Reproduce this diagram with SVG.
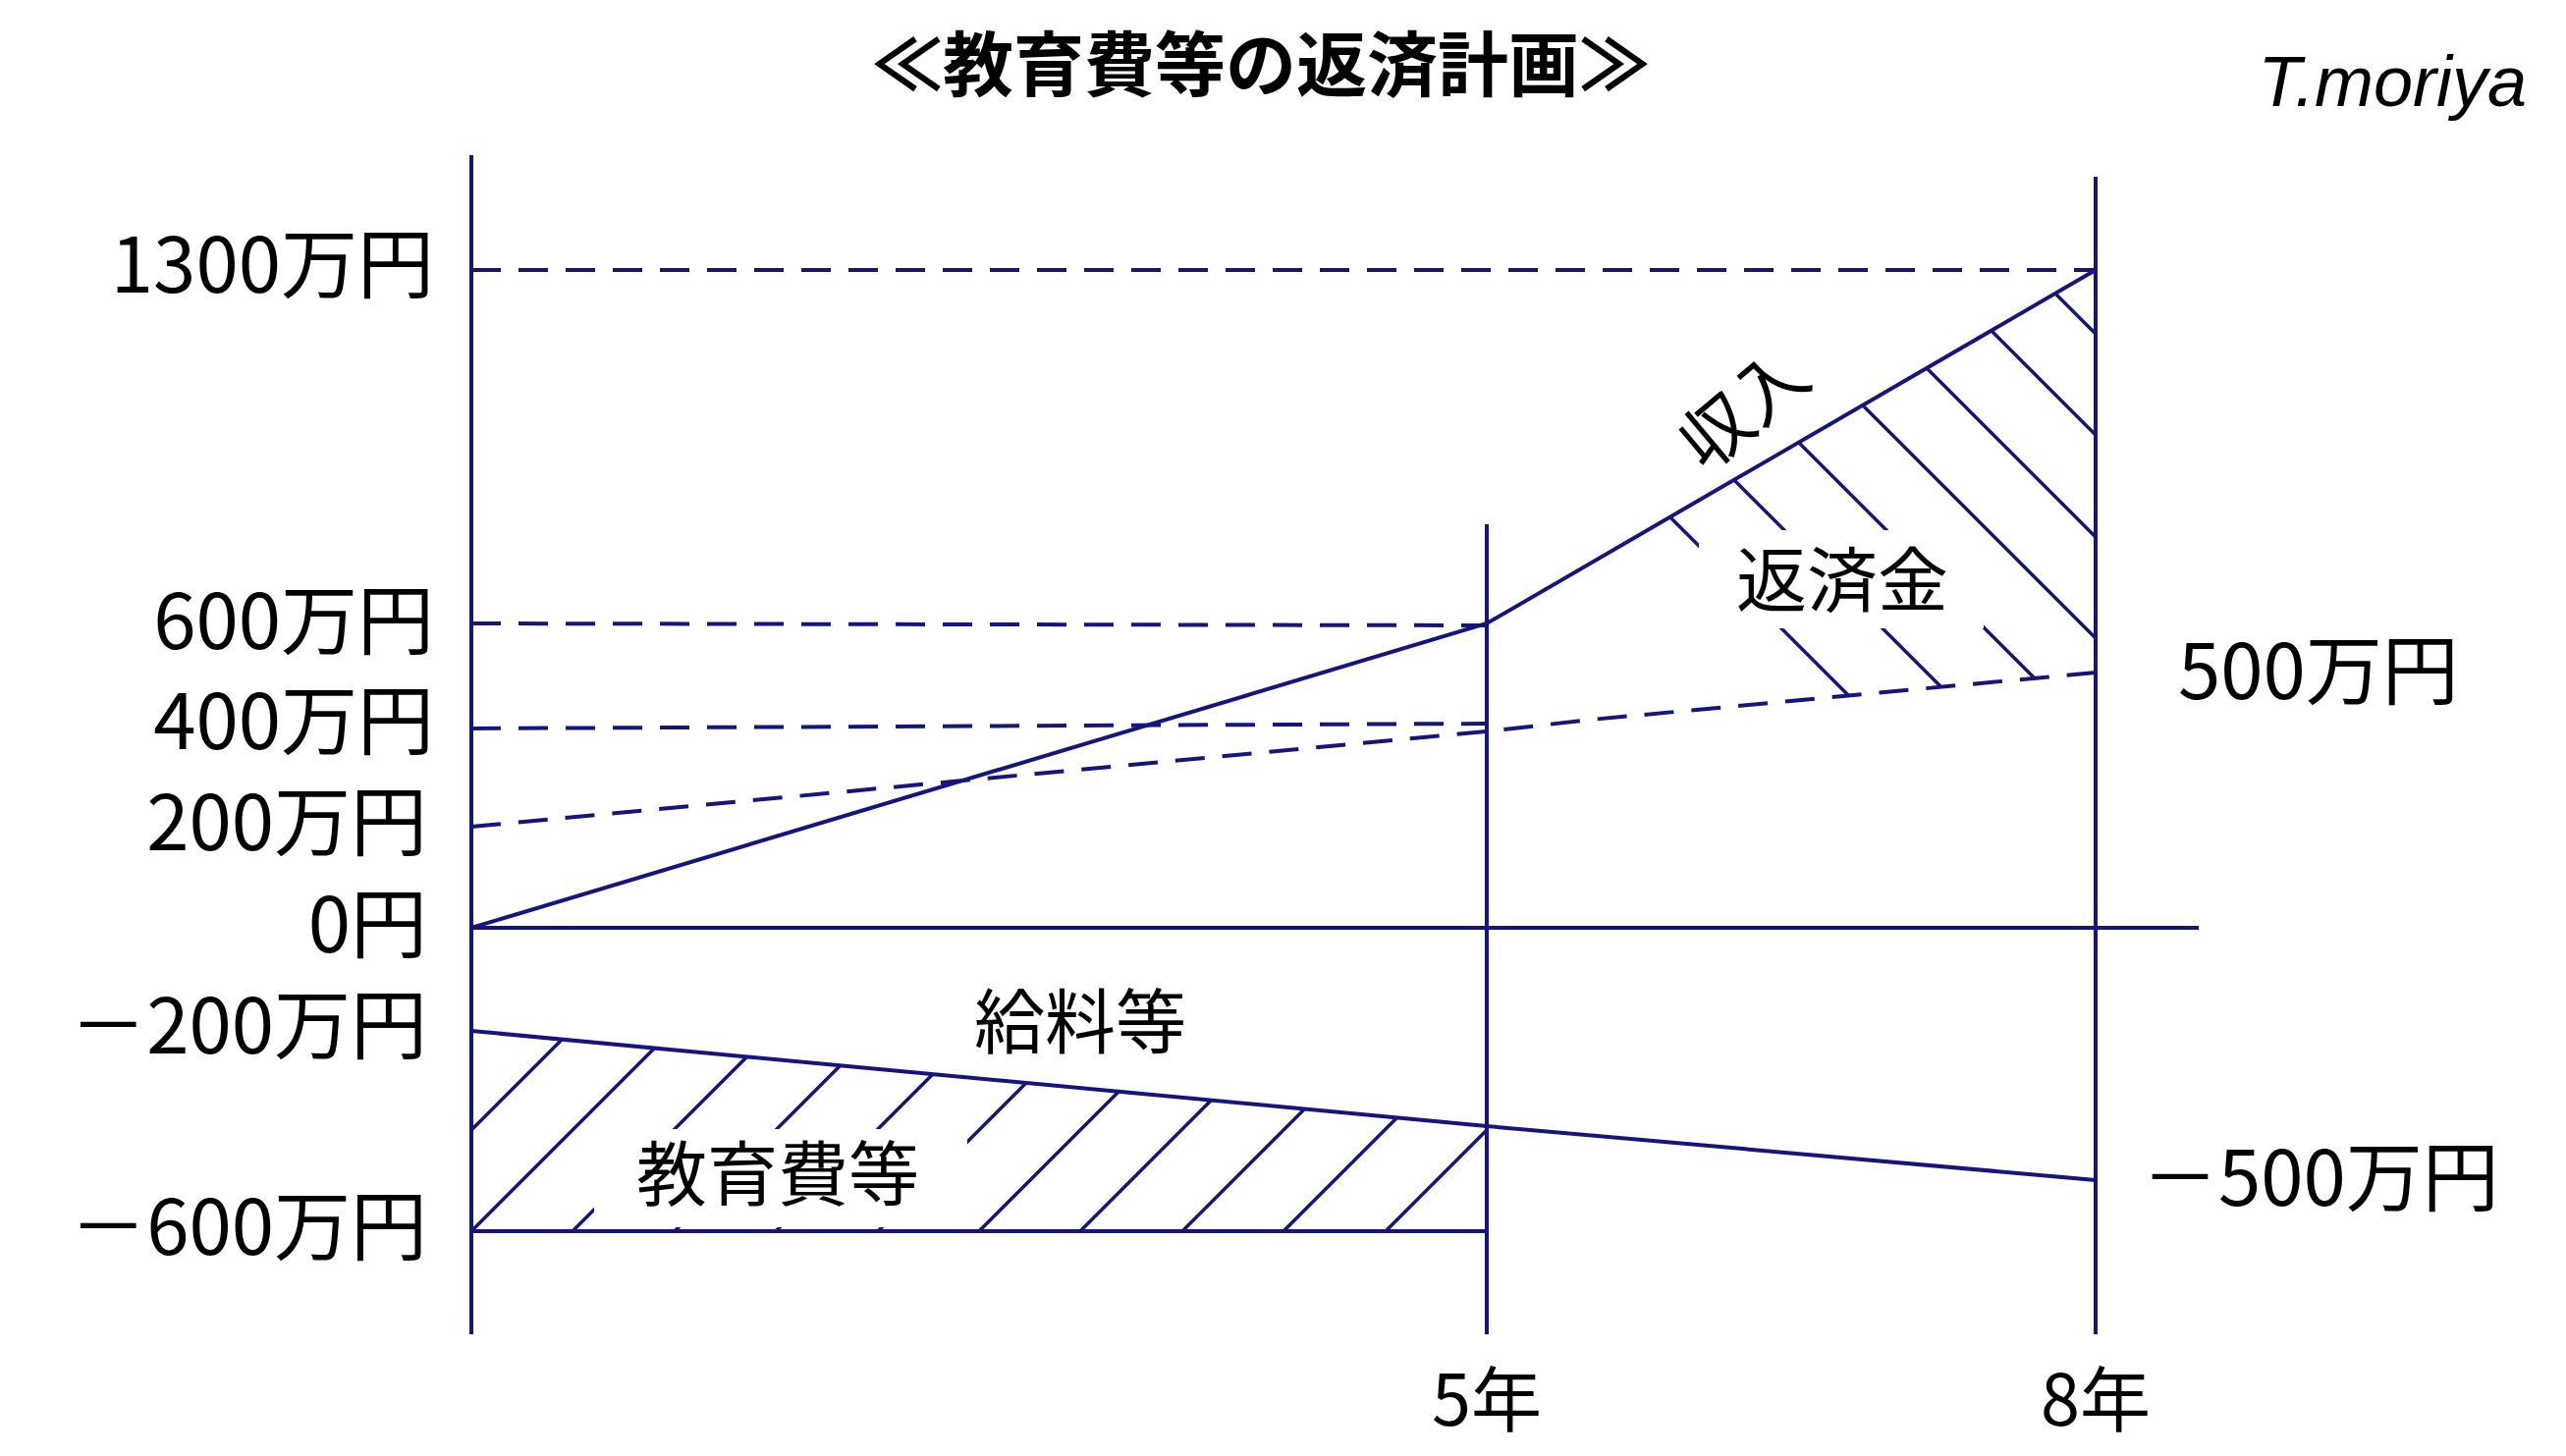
<svg xmlns="http://www.w3.org/2000/svg" width="2613" height="1483" viewBox="0 0 2613 1483">
<style>
.l{stroke:#15157f;stroke-width:4;fill:none}
.d{stroke:#15157f;stroke-width:4;fill:none;stroke-dasharray:30 18}
.h{stroke:#15157f;stroke-width:3.5}
text{font-family:"Noto Sans CJK JP","Liberation Sans",sans-serif;fill:#000}
.y{font-size:78px;text-anchor:end}
.c{font-size:72px;text-anchor:middle}
</style>
<defs>
<clipPath id="cu"><polygon points="1514,635 2134,275 2134,685 1514,745"/></clipPath>
<clipPath id="cl"><polygon points="480,1050 1514,1147 1514,1254 480,1254"/></clipPath>
</defs>
<rect width="2613" height="1483" fill="#fff"/>
<g id="hatch">
<g clip-path="url(#cu)">
<path class="h" d="M1500,326 l800,800 M1500,223 l800,800 M1500,119 l800,800 M1500,16 l800,800 M1500,-87 l800,800 M1500,-191 l800,800 M1500,-294 l800,800 M1500,-398 l800,800 M1500,-501 l800,800 M1500,-605 l800,800"/>
</g>
<g clip-path="url(#cl)">
<path class="h" d="M480,1254 l600,-600 M583,1254 l600,-600 M687,1254 l600,-600 M790,1254 l600,-600 M894,1254 l600,-600 M997,1254 l600,-600 M1100,1254 l600,-600 M1204,1254 l600,-600 M1307,1254 l600,-600 M1411,1254 l600,-600 M377,1254 l600,-600 M273,1254 l600,-600"/>
</g>
<rect x="1730" y="540" width="290" height="100" fill="#fff"/>
<rect x="605" y="1150" width="380" height="100" fill="#fff"/>
</g>
<g id="connectors">
<line class="l" x1="480" y1="158" x2="480" y2="1359"/>
<line class="l" x1="1514" y1="534" x2="1514" y2="1359"/>
<line class="l" x1="2134" y1="180" x2="2134" y2="1359"/>
<line class="l" x1="480" y1="945" x2="2239" y2="945"/>
<line class="d" x1="480" y1="275" x2="2134" y2="275"/>
<line class="d" x1="480" y1="635" x2="1514" y2="637"/>
<line class="d" x1="480" y1="742" x2="1514" y2="737"/>
<polyline class="d" points="480,842 1514,745 1620,733 2134,685"/>
<polyline class="l" points="480,945 1514,635 2134,275"/>
<polyline class="l" points="480,1050 1514,1147 2134,1202"/>
<line class="l" x1="480" y1="1254" x2="1514" y2="1254"/>
</g>
<g id="labels">
<text x="1284" y="92" class="c" font-weight="bold">≪教育費等の返済計画≫</text>
<text x="2573" y="108" font-size="72" font-style="italic" text-anchor="end" style="font-family:'Liberation Sans',sans-serif">T.moriya</text>
<text class="y" x="442" y="298">1300万円</text>
<text class="y" x="442" y="661">600万円</text>
<text class="y" x="442" y="763">400万円</text>
<text class="y" x="435" y="866">200万円</text>
<text class="y" x="435" y="970">0円</text>
<text class="y" x="435" y="1073">－200万円</text>
<text class="y" x="435" y="1278">－600万円</text>
<text x="2218" y="712" font-size="78">500万円</text>
<text x="2181" y="1228" font-size="78">－500万円</text>
<text class="c" x="1514" y="1452" font-size="78">5年</text>
<text class="c" x="2134" y="1452" font-size="78">8年</text>
<text class="c" transform="translate(1776,417) rotate(-40)" y="25">収入</text>
<text class="c" x="1876" y="617">返済金</text>
<text class="c" x="1100" y="1067">給料等</text>
<text class="c" x="792" y="1222">教育費等</text>
</g>
</svg>
